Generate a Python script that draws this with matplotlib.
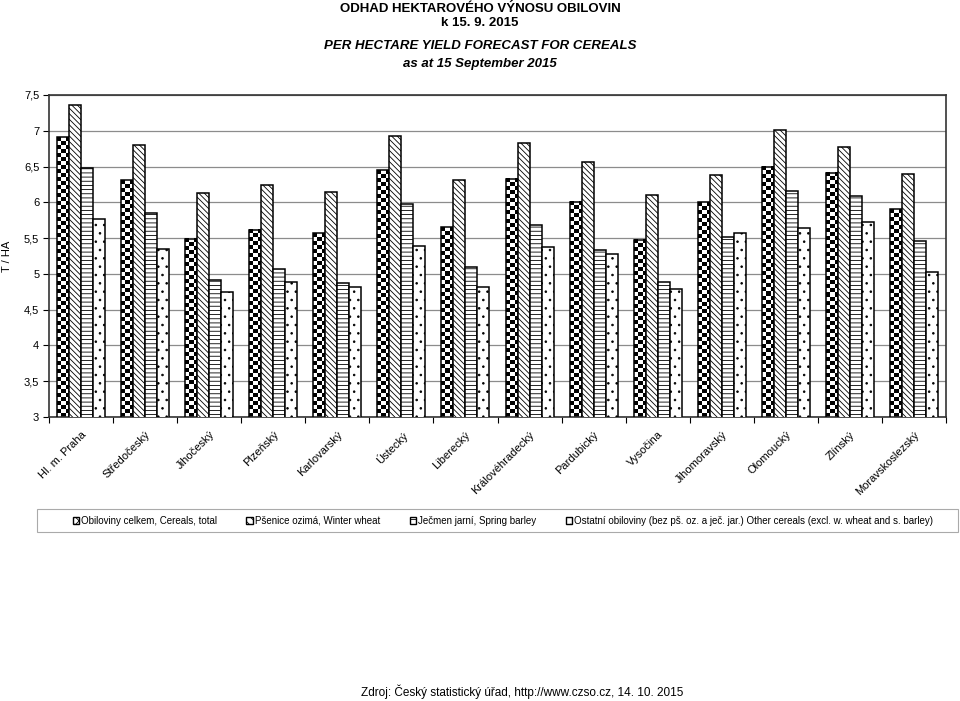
import numpy as np
import matplotlib
matplotlib.use('Agg')
import matplotlib.pyplot as plt
from matplotlib.patches import Patch, Rectangle
from matplotlib.ticker import FuncFormatter

plt.rcParams['font.family'] = ['Liberation Sans', 'DejaVu Sans']
plt.rcParams['hatch.linewidth'] = 0.6

regions = ['Hl. m. Praha', 'Středočeský', 'Jihočeský', 'Plzeňský', 'Karlovarský',
           'Ústecký', 'Liberecký', 'Královéhradecký', 'Pardubický', 'Vysočina',
           'Jihomoravský', 'Olomoucký', 'Zlínský', 'Moravskoslezský']

cereals_total = [6.91, 6.31, 5.49, 5.62, 5.57, 6.45, 5.65, 6.33, 6.01, 5.48, 6.00, 6.50, 6.41, 5.90]
winter_wheat = [7.36, 6.80, 6.13, 6.24, 6.14, 6.93, 6.31, 6.83, 6.56, 6.10, 6.38, 7.01, 6.78, 6.40]
spring_barley = [6.48, 5.85, 4.92, 5.07, 4.87, 5.97, 5.10, 5.68, 5.34, 4.88, 5.51, 6.16, 6.09, 5.46]
other_cereals = [5.77, 5.35, 4.74, 4.89, 4.81, 5.39, 4.81, 5.37, 5.28, 4.79, 5.57, 5.64, 5.72, 5.03]

series_labels = ['Obiloviny celkem, Cereals, total',
                 'Pšenice ozimá, Winter wheat',
                 'Ječmen jarní, Spring barley',
                 'Ostatní obiloviny (bez pš. oz. a ječ. jar.) Other cereals (excl. w. wheat and s. barley)']

fig = plt.figure(figsize=(9.6, 7.01), dpi=100)
ax = fig.add_axes([49/960, 1 - 417/701, (946 - 49)/960, (417 - 95)/701])

x = np.arange(len(regions))
w = 0.1875
ymin, ymax = 3, 7.5

# first series: checkerboard drawn as image inside bar outline
b1 = ax.bar(x - 1.5*w, cereals_total, w, facecolor='none', edgecolor='black', lw=1.1, zorder=3)
for rect in b1:
    x0, bw, top = rect.get_x(), rect.get_width(), rect.get_height()
    ny = int(round((top - ymin) / 0.056))
    checker = np.indices((ny, 3)).sum(axis=0) % 2
    ax.imshow(checker, extent=[x0, x0 + bw, ymin, top], cmap='gray', vmin=0, vmax=1,
              interpolation='nearest', aspect='auto', zorder=2)

b2 = ax.bar(x - 0.5*w, winter_wheat, w, facecolor='white', edgecolor='black', lw=1.1,
            hatch='\\\\\\\\\\\\', zorder=3)
b3 = ax.bar(x + 0.5*w, spring_barley, w, facecolor='white', edgecolor='black', lw=1.1,
            hatch='----', zorder=3)
b4 = ax.bar(x + 1.5*w, other_cereals, w, facecolor='white', edgecolor='black', lw=1.1,
            hatch='..', zorder=3)

ax.set_xlim(-0.5, len(regions) - 0.5)
ax.set_ylim(ymin, ymax)
ax.set_yticks(np.arange(3, 7.51, 0.5))
ax.yaxis.set_major_formatter(FuncFormatter(lambda v, p: ('%g' % v).replace('.', ',')))
ax.yaxis.grid(True, color='#8c8c8c', lw=0.9)
ax.set_axisbelow(True)
ax.tick_params(axis='y', labelsize=8, length=4, width=0.8, pad=3)

ax.set_xticks(x)
ax.set_xticklabels(regions, rotation=45, ha='right', va='top', rotation_mode='anchor', fontsize=8)
ax.tick_params(axis='x', which='major', length=0, pad=9)
ax.set_xticks(np.arange(-0.5, len(regions)), minor=True)
ax.tick_params(axis='x', which='minor', length=4, width=0.8)
for s in ax.spines.values():
    s.set_color('#333333')
    s.set_linewidth(1.2)

fig.text(7/960, 1 - 256/701, 'T / HA', rotation=90, ha='center', va='center', fontsize=8)

# titles
fig.text(0.5, 1 - 9/701, 'ODHAD HEKTAROVÉHO VÝNOSU OBILOVIN', ha='center', va='center',
         fontsize=9.5, fontweight='bold')
fig.text(0.5, 1 - 23/701, 'k 15. 9. 2015', ha='center', va='center', fontsize=9.5, fontweight='bold')
fig.text(0.5, 1 - 46/701, 'PER HECTARE YIELD FORECAST FOR CEREALS', ha='center', va='center',
         fontsize=9.5, fontweight='bold', style='italic')
fig.text(0.5, 1 - 64/701, 'as at 15 September 2015', ha='center', va='center',
         fontsize=9.5, fontweight='bold', style='italic')

# legend
fig.patches.append(Rectangle((37/960, 1 - 532/701), 921/960, 23/701, transform=fig.transFigure,
                             facecolor='none', edgecolor='#aaaaaa', lw=0.8))
handles = [Patch(facecolor='white', edgecolor='black', hatch='xxxx'),
           Patch(facecolor='white', edgecolor='black', hatch='\\\\\\\\'),
           Patch(facecolor='white', edgecolor='black', hatch='---'),
           Patch(facecolor='white', edgecolor='black', hatch='..')]
fig.legend(handles, series_labels, loc='center', bbox_to_anchor=(503/960, 1 - 520.5/701),
           ncol=4, frameon=False, fontsize=7, handlelength=0.7, handleheight=0.7,
           handletextpad=0.2, columnspacing=3.0)

fig.text(522/960, 1 - 692/701, 'Zdroj: Český statistický úřad, http://www.czso.cz, 14. 10. 2015',
         ha='center', va='center', fontsize=8.5)

fig.savefig('out.png', dpi=100)
